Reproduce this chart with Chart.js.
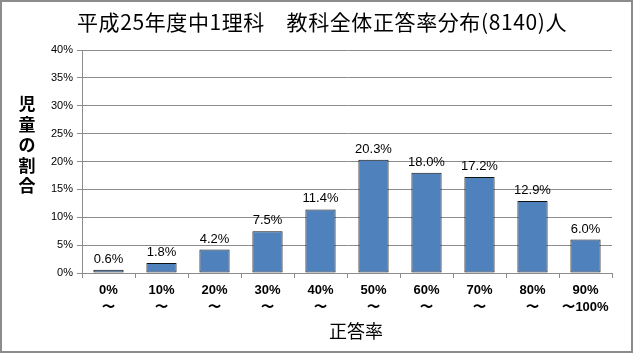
<!DOCTYPE html>
<html>
<head>
<meta charset="utf-8">
<script src="https://cdn.jsdelivr.net/npm/chart.js@4/dist/chart.umd.min.js"></script>
<style>
  html, body { margin: 0; padding: 0; background: #fff; }
  #wrap { width: 633px; height: 353px; }
</style>
</head>
<body>
<div id="wrap"><canvas id="chart" width="633" height="353"></canvas></div>
<script>
// 平成25年度 中1理科 正答率分布
const CATEGORIES = [["0%", "〜"], ["10%", "〜"], ["20%", "〜"], ["30%", "〜"], ["40%", "〜"],
                    ["50%", "〜"], ["60%", "〜"], ["70%", "〜"], ["80%", "〜"], ["90%", "〜100%"]];
const SHARES = [0.6, 1.8, 4.2, 7.5, 11.4, 20.3, 18.0, 17.2, 12.9, 6.0];
const TITLE = "平成25年度中1理科　教科全体正答率分布(8140)人";
const Y_TITLE = ["児", "童", "の", "割", "合"];
const X_TITLE = "正答率";

const JP = '"Noto Sans CJK JP", "Liberation Sans", sans-serif';
const NUM = '"Liberation Sans", "DejaVu Sans", sans-serif';

// title, axis titles, value labels and outer frame
const decor = {
  id: "decor",
  afterDraw(chart) {
    const { ctx } = chart;
    ctx.save();
    ctx.fillStyle = "#000";
    ctx.textAlign = "center";
    ctx.textBaseline = "middle";

    ctx.font = `21px ${JP}`;
    ctx.letterSpacing = "0.6px";
    ctx.fillText(TITLE, 322, 22);
    ctx.letterSpacing = "0px";

    ctx.font = `bold 17px ${JP}`;
    Y_TITLE.forEach((ch, i) => ctx.fillText(ch, 27, 104 + i * 20.5));

    ctx.font = `18px ${JP}`;
    ctx.fillText(X_TITLE, 356, 331);

    // value labels on top of each bar
    ctx.font = `13px ${NUM}`;
    ctx.textBaseline = "alphabetic";
    const meta = chart.getDatasetMeta(0);
    meta.data.forEach((bar, i) => {
      ctx.fillText(SHARES[i].toFixed(1) + "%", bar.x, bar.y - 7);
    });

    ctx.strokeStyle = "#8c8c8c";
    ctx.lineWidth = 2;
    ctx.strokeRect(1, 1, 631, 351);
    ctx.restore();
  },
};

new Chart(document.getElementById("chart").getContext("2d"), {
  type: "bar",
  data: {
    labels: CATEGORIES,
    datasets: [{
      data: SHARES,
      backgroundColor: "#4f81bd",
      borderColor: "#111",
      borderWidth: 1,
      borderSkipped: false,
      barPercentage: 0.57,
      categoryPercentage: 1,
    }],
  },
  options: {
    responsive: false,
    animation: false,
    layout: { padding: { top: 50, right: 21, left: 0, bottom: 0 } },
    plugins: { legend: { display: false }, tooltip: { enabled: false } },
    scales: {
      x: {
        offset: true,
        afterFit: s => { s.height = 80; },
        grid: { offset: true, drawOnChartArea: false, drawTicks: true, tickLength: 5, color: "#8c8c8c" },
        border: { color: "#8c8c8c" },
        ticks: {
          color: "#000", padding: 3,
          font: { family: NUM, size: 13, weight: "bold", lineHeight: 1.38 },
          maxRotation: 0,
        },
      },
      y: {
        min: 0, max: 40,
        afterFit: s => { s.width = 82; },
        grid: { color: "#8c8c8c", tickLength: 5 },
        border: { color: "#8c8c8c" },
        ticks: {
          stepSize: 5, color: "#000", padding: 4,
          font: { family: NUM, size: 11 },
          callback: v => v + "%",
        },
      },
    },
  },
  plugins: [decor],
});
</script>
</body>
</html>
